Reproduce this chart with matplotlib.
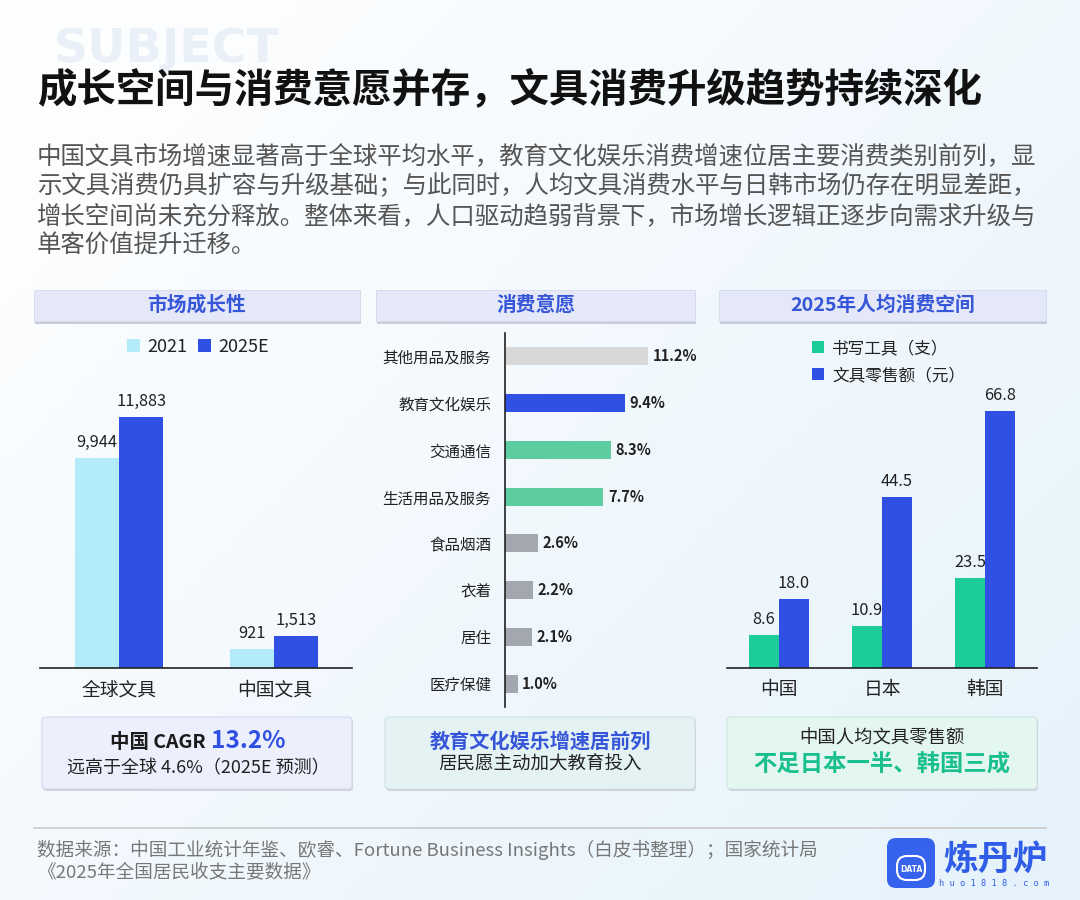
import matplotlib
matplotlib.use("Agg")
import matplotlib.pyplot as plt
import numpy as np
from matplotlib.patches import FancyBboxPatch, Rectangle
from matplotlib.lines import Line2D

plt.rcParams['font.family'] = ['Noto Sans CJK SC', 'DejaVu Sans']

# ---------------- data ----------------
title = "成长空间与消费意愿并存，文具消费升级趋势持续深化"
para_lines = [
    "中国文具市场增速显著高于全球平均水平，教育文化娱乐消费增速位居主要消费类别前列，显",
    "示文具消费仍具扩容与升级基础；与此同时，人均文具消费水平与日韩市场仍存在明显差距，",
    "增长空间尚未充分释放。整体来看，人口驱动趋弱背景下，市场增长逻辑正逐步向需求升级与",
    "单客价值提升迁移。",
]
panel_titles = ["市场成长性", "消费意愿", "2025年人均消费空间"]

market_cats = ["全球文具", "中国文具"]
market_2021 = [9944, 921]
market_2025 = [11883, 1513]
market_series = ["2021", "2025E"]

spend_cats = ["其他用品及服务", "教育文化娱乐", "交通通信", "生活用品及服务",
              "食品烟酒", "衣着", "居住", "医疗保健"]
spend_vals = [11.2, 9.4, 8.3, 7.7, 2.6, 2.2, 2.1, 1.0]

country_cats = ["中国", "日本", "韩国"]
pens_per_capita = [8.6, 10.9, 23.5]
retail_per_capita = [18.0, 44.5, 66.8]
country_series = ["书写工具（支）", "文具零售额（元）"]

source_lines = [
    "数据来源：中国工业统计年鉴、欧睿、Fortune Business Insights（白皮书整理）；国家统计局",
    "《2025年全国居民收支主要数据》",
]

# ---------------- colors ----------------
C_LIGHT = "#b3ecf8"
C_BLUE = "#2f50e3"
C_GREEN = "#1dcc9b"
C_MINT = "#5dcc9f"
C_GRAY = "#a3a7b0"
C_LGRAY = "#d8d8d8"
C_HEAD = "#3556d8"

W, H = 1080, 900
fig = plt.figure(figsize=(10.8, 9), dpi=100)


def fx(x):
    return x / W


def fy(y):
    return 1 - y / H


def rect(x0, y0, x1, y1):
    return [fx(x0), fy(y1), fx(x1 - x0), (y1 - y0) / H]


# background gradient
bg = fig.add_axes([0, 0, 1, 1], zorder=-10)
gx = np.linspace(0, 1, 200)
gy = np.linspace(0, 1, 200)
GX, GY = np.meshgrid(gx, gy)
t = np.clip(0.55 * GX + 0.45 * GY, 0, 1)
c0 = np.array([1.0, 1.0, 1.0])
c1 = np.array([0.90, 0.95, 0.985])
img = c0[None, None, :] * (1 - t[..., None]) + c1[None, None, :] * t[..., None]
bg.imshow(img, extent=[0, 1, 0, 1], aspect='auto', origin='upper')
bg.set_xlim(0, 1)
bg.set_ylim(0, 1)
bg.axis('off')

# overlay axes for text / shapes in pixel coords
ov = fig.add_axes([0, 0, 1, 1], zorder=5)
ov.set_xlim(0, W)
ov.set_ylim(H, 0)
ov.axis('off')
ov.patch.set_alpha(0)

# watermark "SUBJECT"
bgt = fig.add_axes([0, 0, 1, 1], zorder=-5)
bgt.set_xlim(0, W)
bgt.set_ylim(H, 0)
bgt.axis('off')
bgt.patch.set_alpha(0)
bgt.text(54, 50, "SUBJECT", fontsize=34, fontweight='bold', color="#eaf0f8",
         ha='left', va='center', family=['DejaVu Sans'])

# title & paragraph
ov.text(37, 90, title, fontsize=28.4, fontweight='bold', color="#111111",
        ha='left', va='center')
for i, ln in enumerate(para_lines):
    ov.text(37, 157 + i * 29.5, ln, fontsize=17.6, color="#555555",
            ha='left', va='center')

# panel headers
for (x0, x1), txt in zip([(34, 360), (376, 695), (719, 1046)], panel_titles):
    ov.add_patch(Rectangle((x0 + 1, 292), x1 - x0, 32, facecolor="#c9ccd8",
                           edgecolor='none', zorder=1))
    ov.add_patch(Rectangle((x0, 290), x1 - x0, 31, facecolor="#e5e8f8",
                           edgecolor="#d6d9ea", linewidth=0.6, zorder=2))
    ov.text((x0 + x1) / 2, 305, txt, fontsize=14.2, fontweight='bold',
            color=C_HEAD, ha='center', va='center', zorder=3)

# ---------------- panel 1 ----------------
ax1 = fig.add_axes(rect(40, 335, 352, 668))
ax1.patch.set_alpha(0)
x = np.arange(len(market_cats))
bw = 0.284
b1 = ax1.bar(x - bw / 2, market_2021, bw, color=C_LIGHT, label=market_series[0])
b2 = ax1.bar(x + bw / 2, market_2025, bw, color=C_BLUE, label=market_series[1])
for bars, vals in [(b1, market_2021), (b2, market_2025)]:
    for r, v in zip(bars, vals):
        ax1.annotate(f"{v:,}", (r.get_x() + r.get_width() / 2, v),
                     xytext=(0, 5), textcoords='offset points',
                     ha='center', va='bottom', fontsize=11.8, color="#222222")
ax1.set_xlim(-0.51, 1.50)
ax1.set_ylim(0, 333 / 251 * 11883)
ax1.set_xticks(x)
ax1.set_xticklabels(market_cats, fontsize=13.5, color="#222222")
ax1.tick_params(axis='x', length=0, pad=8)
ax1.set_yticks([])
for s in ['top', 'right', 'left']:
    ax1.spines[s].set_visible(False)
ax1.spines['bottom'].set_color("#222222")
ax1.spines['bottom'].set_linewidth(1.2)
ax1.legend(loc='center', bbox_to_anchor=(fx(198), fy(347)),
           bbox_transform=fig.transFigure, ncol=2, frameon=False,
           fontsize=13, handlelength=0.7, handleheight=0.7,
           handletextpad=0.4, columnspacing=0.6, labelcolor="#222222")

# ---------------- panel 2 ----------------
ax2 = fig.add_axes(rect(505, 333, 700, 707))
ax2.patch.set_alpha(0)
y = np.arange(len(spend_cats))
spend_colors = [C_LGRAY, C_BLUE, C_MINT, C_MINT, C_GRAY, C_GRAY, C_GRAY, C_GRAY]
ax2.barh(y, spend_vals, height=0.39, color=spend_colors)
for yi, v in zip(y, spend_vals):
    ax2.text(v + 0.35, yi, f"{v:.1f}%", fontsize=10.5, fontweight='bold',
             color="#222222", ha='left', va='center')
ax2.set_ylim(len(spend_cats) - 0.5, -0.5)
ax2.set_xlim(0, 195 / 12.77)
ax2.set_yticks(y)
ax2.set_yticklabels(spend_cats, fontsize=11.2, color="#222222")
ax2.tick_params(axis='y', length=0, pad=10)
ax2.set_xticks([])
for s in ['top', 'right', 'bottom']:
    ax2.spines[s].set_visible(False)
ax2.spines['left'].set_color("#222222")
ax2.spines['left'].set_linewidth(1.2)

# ---------------- panel 3 ----------------
ax3 = fig.add_axes(rect(727, 335, 1037, 668))
ax3.patch.set_alpha(0)
xc = np.arange(len(country_cats))
bw3 = 0.29
c1b = ax3.bar(xc - bw3 / 2, pens_per_capita, bw3, color=C_GREEN, label=country_series[0])
c2b = ax3.bar(xc + bw3 / 2, retail_per_capita, bw3, color=C_BLUE, label=country_series[1])
for bars, vals in [(c1b, pens_per_capita), (c2b, retail_per_capita)]:
    for r, v in zip(bars, vals):
        ax3.annotate(f"{v:.1f}", (r.get_x() + r.get_width() / 2, v),
                     xytext=(0, 5), textcoords='offset points',
                     ha='center', va='bottom', fontsize=11.8, color="#222222")
ax3.set_xlim(-0.5, 2.5)
ax3.set_ylim(0, 333 / 3.85)
ax3.set_xticks(xc)
ax3.set_xticklabels(country_cats, fontsize=13.5, color="#222222")
ax3.tick_params(axis='x', length=0, pad=8)
ax3.set_yticks([])
for s in ['top', 'right', 'left']:
    ax3.spines[s].set_visible(False)
ax3.spines['bottom'].set_color("#222222")
ax3.spines['bottom'].set_linewidth(1.2)
ax3.legend(loc='upper left', bbox_to_anchor=(fx(797), fy(325)),
           bbox_transform=fig.transFigure, ncol=1, frameon=False,
           fontsize=12, handlelength=0.7, handleheight=0.7,
           handletextpad=0.5, labelspacing=0.6, labelcolor="#222222")

# ---------------- bottom boxes ----------------
boxes = [((42, 352), "#eceffc", "#d3d8ee"),
         ((385, 695), "#e5f2f4", "#cfe0e3"),
         ((727, 1037), "#e4f6f0", "#cde6dd")]
for (x0, x1), fc, ec in boxes:
    ov.add_patch(FancyBboxPatch((x0 + 1, 719), x1 - x0, 72,
                                boxstyle="round,pad=0,rounding_size=4",
                                facecolor="#cfd2da", edgecolor='none', zorder=1))
    ov.add_patch(FancyBboxPatch((x0, 717), x1 - x0, 72,
                                boxstyle="round,pad=0,rounding_size=4",
                                facecolor=fc, edgecolor=ec, linewidth=0.8, zorder=2))

ov.text(206, 743, "中国 CAGR", fontsize=14, fontweight='bold', color="#1a1a1a",
        ha='right', va='center', zorder=3)
ov.text(211, 741, "13.2%", fontsize=17.5, fontweight='bold', color=C_BLUE,
        ha='left', va='center', zorder=3)
ov.text(198, 768, "远高于全球 4.6%（2025E 预测）", fontsize=13, color="#222222",
        ha='center', va='center', zorder=3)

ov.text(540, 741, "教育文化娱乐增速居前列", fontsize=14.5, fontweight='bold', color=C_HEAD,
        ha='center', va='center', zorder=3)
ov.text(540, 765, "居民愿主动加大教育投入", fontsize=13.3, color="#222222",
        ha='center', va='center', zorder=3)

ov.text(882, 738, "中国人均文具零售额", fontsize=13.2, color="#222222",
        ha='center', va='center', zorder=3)
ov.text(882, 765, "不足日本一半、韩国三成", fontsize=16.8, fontweight='bold', color="#19c08e",
        ha='center', va='center', zorder=3)

# separator & source
ov.add_line(Line2D([34, 1046], [828, 828], color="#c8c8c8", linewidth=1.2))
for i, ln in enumerate(source_lines):
    ov.text(37, 850 + i * 22, ln, fontsize=13.4, color="#777777",
            ha='left', va='center')

# logo
ov.add_patch(FancyBboxPatch((887, 838), 48, 50,
                            boxstyle="round,pad=0,rounding_size=9",
                            facecolor="#3563ee", edgecolor='none', zorder=3))
ov.text(911, 869, "DATA", fontsize=5.5, fontweight='bold', color="white",
        ha='center', va='center', zorder=4, family=['DejaVu Sans'])
ov.add_patch(FancyBboxPatch((897, 856), 28, 24,
                            boxstyle="round,pad=0,rounding_size=10",
                            facecolor='none', edgecolor='white', linewidth=1.5, zorder=4))
ov.text(995, 859, "炼丹炉", fontsize=25, fontweight='bold', color="#2f5de8",
        ha='center', va='center', zorder=3)
ov.text(994, 883, "h u o 1 8 1 8 . c o m", fontsize=6.2, color="#2f5de8",
        ha='center', va='center', zorder=3, family=['DejaVu Sans Mono'])

fig.savefig("out.png", dpi=100)
